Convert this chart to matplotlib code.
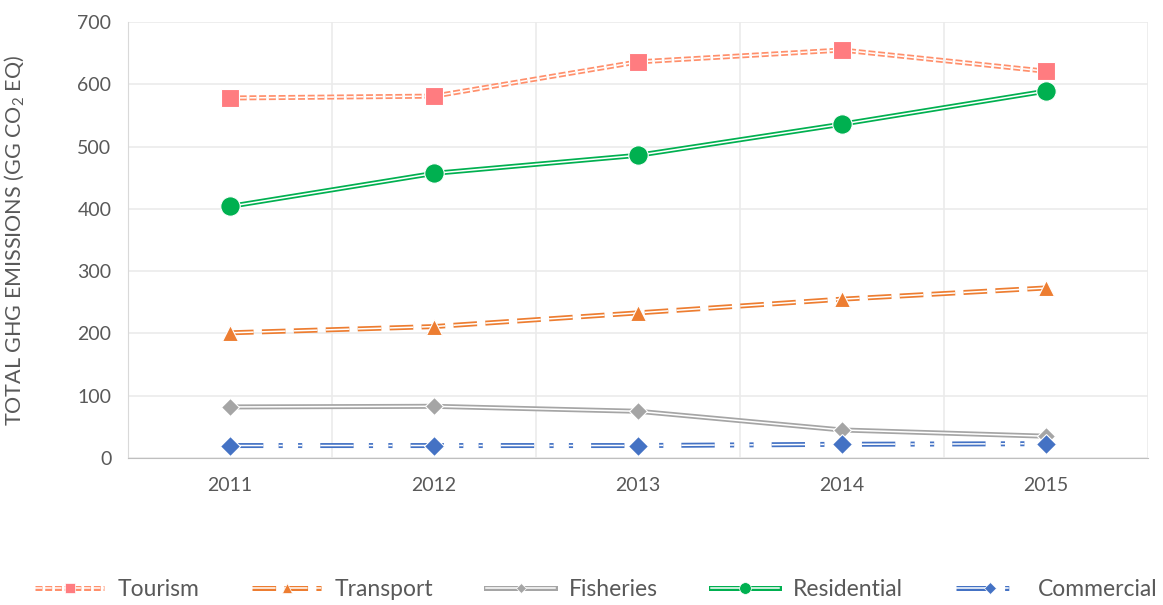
import numpy as np
import matplotlib
matplotlib.use('Agg')
import matplotlib.pyplot as plt
import matplotlib.patheffects as pe
from matplotlib.legend_handler import HandlerTuple

plt.rcParams['font.family'] = ['Lato', 'DejaVu Sans']
plt.rcParams['mathtext.fontset'] = 'custom'
plt.rcParams['mathtext.rm'] = 'Lato'
plt.rcParams['lines.scale_dashes'] = False

years = ['2011', '2012', '2013', '2014', '2015']
tourism = [578, 581, 636, 655, 621]
transport = [201, 211, 233, 255, 273]
fisheries = [82, 83, 75, 45, 35]
residential = [404, 457, 486, 536, 589]
commercial = [20, 20, 20, 22, 23]

names = ['Tourism', 'Transport', 'Fisheries', 'Residential', 'Commercial']
values = [tourism, transport, fisheries, residential, commercial]
line_cols = ['#FF8F6B', '#ED7D31', '#A5A5A5', '#00B050', '#4472C4']
mark_cols = ['#FF7C80', '#ED7D31', '#A5A5A5', '#00B050', '#4472C4']
markers = ['s', '^', 'D', 'o', 'D']
msizes = [13, 12, 9, 14, 10]
styles = [(0, (5, 2)), (0, (17, 6)), '-', '-', (0, (24, 11, 3, 11, 3, 13))]

fig = plt.figure(figsize=(11.63, 6.05), dpi=100)
ax = fig.add_axes([128/1163, 1-458/605, 1020/1163, 436/605])

x = np.arange(len(years))
handles = []
for name, v, lc, mc, m, ms, ls in zip(names, values, line_cols, mark_cols, markers, msizes, styles):
    fx = [pe.Stroke(linewidth=3.6, foreground=lc), pe.Stroke(linewidth=1.1, foreground='white')]
    ax.plot(x, v, color=lc, lw=3.6, ls=ls, zorder=3, path_effects=fx)
    ax.plot(x, v, ls='none', marker=m, ms=ms, color=mc, mec='white', mew=0.8, zorder=4)
    # legend handle: double line with a small marker on top
    lh, = ax.plot([], [], color=lc, lw=3.6, ls=ls, path_effects=fx)
    mh, = ax.plot([], [], ls='none', marker=m, ms=ms*0.6, color=mc, mec='white', mew=0.5)
    handles.append((lh, mh))

ax.set_xlim(-0.5, 4.5)
ax.set_ylim(0, 700)
ax.set_yticks(np.arange(0, 701, 100))
ax.set_xticks(x)
ax.set_xticklabels(years)
ax.set_xticks(np.arange(-0.5, 4.6, 1), minor=True)
ax.grid(True, axis='y', color='#EBEBEB', lw=1.2)
ax.grid(True, axis='x', which='minor', color='#EBEBEB', lw=1.2)
ax.set_axisbelow(True)
ax.tick_params(axis='both', which='both', length=0, labelsize=14, colors='#595959', pad=12)
ax.tick_params(axis='x', pad=14)
for s in ['top', 'right']:
    ax.spines[s].set_visible(False)
ax.spines['left'].set_color('#D9D9D9')
ax.spines['bottom'].set_color('#BFBFBF')

ax.set_ylabel('TOTAL GHG EMISSIONS (GG CO$_2$ EQ)', fontsize=15.5, color='#595959')
ax.yaxis.set_label_coords(-101/1020, 0.5)

fig.legend(handles, names, handler_map={tuple: HandlerTuple(ndivide=1, pad=0)},
           loc='center', bbox_to_anchor=(0.513, 1-590/605), ncol=5, frameon=False,
           fontsize=16.5, labelcolor='#595959', handlelength=3.0, handletextpad=0.6,
           columnspacing=2.3)

fig.savefig('out.png', dpi=100)
